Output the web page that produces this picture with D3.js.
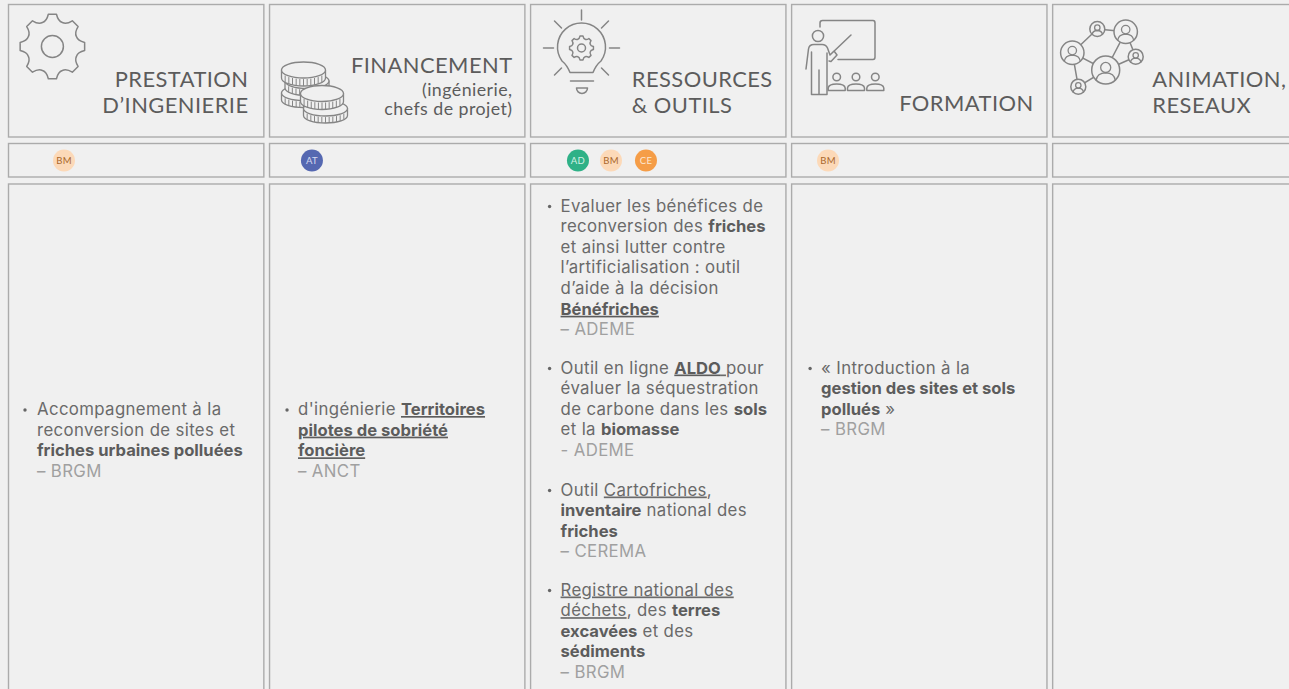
<!DOCTYPE html>
<html><head><meta charset="utf-8">
<script src="https://cdnjs.cloudflare.com/ajax/libs/d3/7.8.5/d3.min.js"></script>
<style>
html,body{margin:0;padding:0;background:#f0f0f0;overflow:hidden}
svg{display:block}
.h{font-family:Lato,sans-serif;fill:#5c5c5c;letter-spacing:.45px}
.b{font-family:Inter,sans-serif;font-size:16.8px;fill:#6a6a6a;font-weight:400;letter-spacing:.36px}
</style></head><body>
<svg id="c" width="1289" height="689"></svg>
<script>
const categories=["prestation","financement","ressources","formation","animation"];
const headerLines=[
 ["PRESTATION","D’INGENIERIE"],
 ["FINANCEMENT","(ingénierie,","chefs de projet)"],
 ["RESSOURCES","& OUTILS"],
 ["FORMATION"],
 ["ANIMATION,","RESEAUX"]];
const badges=[["BM"],["AT"],["AD","BM","CE"],["BM"],[]];
const badgeColours={BM:["#fcd9b8","#a9672c"],AT:["#5568b1","#d6daf0"],AD:["#2fb187","#d3f0e5"],CE:["#f59d47","#fde8d2"]};
// text markup: **bold**, __underline__, ~~source (light)
const bodyLines=[
 [["Accompagnement à la","reconversion de sites et","**friches urbaines polluées**","~~– BRGM"]],
 [["d'ingénierie __**Territoires**__","__**pilotes de sobriété**__","__**foncière**__","~~– ANCT"]],
 [["Evaluer les bénéfices de","reconversion des **friches**","et ainsi lutter contre","l’artificialisation : outil","d’aide à la décision","__**Bénéfriches**__","~~– ADEME"],
  ["Outil en ligne __**ALDO** __pour","évaluer la séquestration","de carbone dans les **sols**","et la **biomasse**","~~- ADEME"],
  ["Outil __Cartofriches__,","**inventaire** national des","**friches**","~~– CEREMA"],
  ["__Registre national des__","__déchets__, des **terres**","**excavées** et des","**sédiments**","~~– BRGM"]],
 [["« Introduction à la","**gestion des sites et sols**","**pollués** »","~~– BRGM"]],
 []];

const svg=d3.select("#c");
const col=d3.scaleBand().domain(categories).range([8.5,1308]).paddingInner(0.0218).paddingOuter(0);
const rows=[{y:4.5,h:132.5},{y:143.5,h:33.5},{y:184,h:530}];
rows.forEach(r=>{
 svg.append("g").selectAll("rect").data(categories).join("rect")
  .attr("x",d=>col(d)).attr("y",r.y).attr("width",col.bandwidth()).attr("height",r.h)
  .attr("fill","#f0f0f0").attr("stroke","#ababab").attr("stroke-width",1.4);
});

// headers
const headerLayout=[
 {anchor:"end",dx:240,ys:[87,113],fs:[21.9,21.9]},
 {anchor:"end",dx:243,ys:[73,96,115],fs:[21.9,17.8,17.8]},
 {anchor:"start",dx:101.2,ys:[87,113],fs:[21.9,21.9]},
 {anchor:"end",dx:242,ys:[111],fs:[21.9]},
 {anchor:"start",dx:99.7,ys:[87,113],fs:[21.9,21.9]}];
categories.forEach((c,i)=>{
 const L=headerLayout[i];
 svg.append("g").selectAll("text").data(headerLines[i]).join("text").attr("class","h")
  .attr("x",col(c)+L.dx).attr("y",(d,j)=>L.ys[j]).attr("text-anchor",L.anchor)
  .attr("font-size",(d,j)=>L.fs[j]).text(d=>d);
});

// badges
const badgeOffsets=[[55.5],[42.4],[47.4,80.4,115.4],[36.4],[]];
categories.forEach((c,i)=>{
 const g=svg.append("g").selectAll("g").data(badges[i]).join("g")
  .attr("transform",(d,j)=>`translate(${col(c)+badgeOffsets[i][j]},160.5)`);
 g.append("circle").attr("r",11).attr("fill",d=>badgeColours[d][0]);
 g.append("text").attr("text-anchor","middle").attr("y",3.2)
  .attr("font-family","Lato,sans-serif").attr("font-size",9.5).attr("letter-spacing",.3)
  .attr("fill",d=>badgeColours[d][1]).text(d=>d);
});

// body text
const bodyLayout=[{bx:16.5,tx:28.5,ys:[415]},{bx:17.5,tx:28.5,ys:[415]},
 {bx:19,tx:30,ys:[211.5,373.5,495.5,595.5]},{bx:18.5,tx:29.5,ys:[373.5]},{bx:0,tx:0,ys:[]}];
const LH=20.65;
function runs(line){
 if(line.startsWith("~~")) return [{t:line.slice(2),cls:"s"}];
 const out=[];let b=false,u=false;
 line.split(/(\*\*|__)/).forEach(p=>{
  if(p==="**") b=!b; else if(p==="__") u=!u; else if(p) out.push({t:p,b,u});
 });
 return out;
}
categories.forEach((c,i)=>{
 const L=bodyLayout[i],x0=col(c);
 bodyLines[i].forEach((para,k)=>{
  svg.append("circle").attr("cx",x0+L.bx).attr("cy",L.ys[k]-5).attr("r",1.7).attr("fill","#666");
  para.forEach((ln,j)=>{
   const t=svg.append("text").attr("class","b").attr("x",x0+L.tx).attr("y",L.ys[k]+j*LH).style("white-space","pre");
   runs(ln).forEach(r=>{
    const s=t.append("tspan").text(r.t);
    if(r.cls==="s") s.style("fill","#a0a0a0");
    if(r.b) s.style("font-weight",700).style("fill","#5c5c5c").style("font-size","16.6px").style("letter-spacing","0");
    if(r.u) s.attr("text-decoration","underline");
   });
  });
 });
});

// icons
const ic=svg.append("g").attr("fill","none").attr("stroke","#858585").attr("stroke-width",1.5).attr("stroke-linejoin","round").attr("stroke-linecap","round");
const BG="#f0f0f0";
function gear(cx,cy,ro,ri,n){
 const P=(r,a)=>[cx+r*Math.cos(a),cy+r*Math.sin(a)].map(v=>v.toFixed(2)).join(",");
 const w=2*Math.PI/n;let d="";
 for(let k=0;k<n;k++){
  const a=k*w-Math.PI/2,ht=w*.16;
  d+=(k?"L":"M")+P(ro,a-ht)+"L"+P(ro,a+ht)+"Q"+P(ri,a+w*.28)+" "+P(ri,a+w/2)+"Q"+P(ri,a+w*.72)+" "+P(ro,a+w-ht);
 }
 return d+"Z";
}
// gear
ic.append("path").attr("d",gear(52.4,46.5,32.5,26,8));
ic.append("circle").attr("cx",52.4).attr("cy",46.5).attr("r",11);

// coins
function coin(cx,cy,rx,ry,th,g){
 g.append("path").attr("fill",BG).attr("d",`M${cx-rx},${cy}v${th}A${rx},${ry} 0 0 0 ${cx+rx},${cy+th}v${-th}`);
 g.append("ellipse").attr("cx",cx).attr("cy",cy).attr("rx",rx).attr("ry",ry).attr("fill",BG);
 d3.range(-5,6).forEach(k=>{
  const x=cx+k*rx/6;
  const yy=cy+ry*Math.sqrt(1-(k/6)**2);
  g.append("line").attr("x1",x).attr("x2",x).attr("y1",yy+1.5).attr("y2",yy+th-.5).attr("stroke-width",1);
 });
}
const cg=ic.append("g").attr("stroke-width",1.3);
coin(303.5,93,22,7.5,7,cg);
coin(307,81,22,7.5,7,cg);
coin(303.5,70,22,8,8,cg);
coin(325.5,108.5,22,7.5,7,cg);
coin(322,93.5,21.5,8,8,cg);

// bulb
const bx=581.5,by=48;
ic.append("path").attr("d",`M570,72.5 L593,72.5 Q596,65 601,61 A24,24 0 1 0 562,61 Q567,65 570,72.5Z`);
ic.append("path").attr("d",gear(bx,by,12,9.5,8));
ic.append("circle").attr("cx",bx).attr("cy",by).attr("r",4);
ic.append("path").attr("d","M570.5,81H593.5M576.5,88H587.5A5.5,5.5 0 0 1 576.5,88Z");
[[0,-38,0,-28],[-38,0,-28,0],[38,0,28,0],[-27,-27,-20,-20],[27,-27,20,-20],[-27,27,-20,20],[27,27,20,20]].forEach(r=>
 ic.append("line").attr("x1",bx+r[0]).attr("y1",by+r[1]).attr("x2",bx+r[2]).attr("y2",by+r[3]));

// teacher
ic.append("path").attr("d","M820,27V23Q820,20.5 822.5,20.5H873Q875,20.5 875,23V57Q875,59.5 873,59.5H838");
ic.append("circle").attr("cx",818).attr("cy",36).attr("r",5.6);
ic.append("path").attr("d","M806,69 L808.5,49 Q809,44.5 814,44.5H822Q826,44.5 827.5,48L830,55 L851,35 M830,55 L834,51 L837,55 L831,61.5 L829,61 M827,53V94.5H811.5V52 M819,70V94.5");
[836.7,856,875.3].forEach(x=>{
 ic.append("circle").attr("cx",x).attr("cy",77).attr("r",3.8);
 ic.append("path").attr("d",`M${x-8.5},90.5V88Q${x-8},84 ${x},84Q${x+8},84 ${x+8.5},88V90.5Z`);
});

// network
const nodes=[[1097.3,29,7.5],[1125.7,31.7,11.7],[1072.3,52.7,11.7],[1135.7,56.7,7.5],[1105.7,70,14],[1078.3,86.7,7.5]];
const edges=[[0,1],[0,2],[1,4],[1,3],[3,4],[2,4],[2,5],[5,4]];
edges.forEach(e=>ic.append("line").attr("x1",nodes[e[0]][0]).attr("y1",nodes[e[0]][1]).attr("x2",nodes[e[1]][0]).attr("y2",nodes[e[1]][1]));
nodes.forEach(([x,y,r])=>{
 ic.append("circle").attr("cx",x).attr("cy",y).attr("r",r).attr("fill",BG);
 ic.append("circle").attr("cx",x).attr("cy",y-r*.18).attr("r",r*.36).attr("stroke-width",1.3);
 ic.append("path").attr("stroke-width",1.3).attr("d",`M${x-r*.68},${y+r*.72}Q${x-r*.62},${y+r*.22} ${x},${y+r*.2}Q${x+r*.62},${y+r*.22} ${x+r*.68},${y+r*.72}`);
});
</script></body></html>
